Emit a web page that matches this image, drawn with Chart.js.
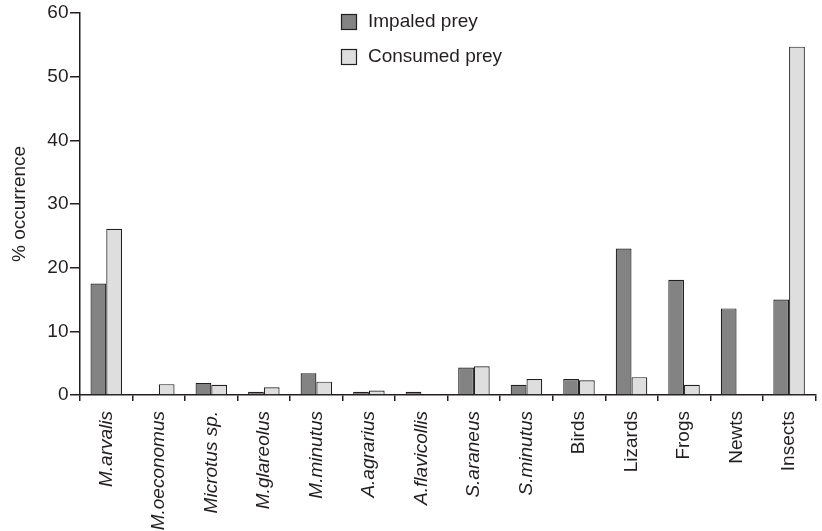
<!DOCTYPE html>
<html>
<head>
<meta charset="utf-8">
<script src="https://cdn.jsdelivr.net/npm/chart.js@4/dist/chart.umd.min.js"></script>
<style>
  html, body { margin: 0; padding: 0; background: #fff; }
  canvas { display: block; }
</style>
</head>
<body>
<canvas id="prey-chart" width="822" height="531"></canvas>
<script>
const categories = [
  'M.arvalis', 'M.oeconomus', 'Microtus sp.', 'M.glareolus', 'M.minutus',
  'A.agrarius', 'A.flavicollis', 'S.araneus', 'S.minutus', 'Birds',
  'Lizards', 'Frogs', 'Newts', 'Insects'
];
// species names are set in italics, group names upright
const italicLabels = [true, true, true, true, true, true, true, true, true, false, false, false, false, false];

const impaledPrey = [17.5, 0, 1.9, 0.5, 3.4, 0.5, 0.5, 4.3, 1.6, 2.5, 23.0, 18.1, 13.6, 15.0];
const consumedPrey = [26.1, 1.7, 1.6, 1.2, 2.1, 0.7, 0, 4.5, 2.5, 2.3, 2.8, 1.6, 0, 54.7];

const yTicks = [0, 10, 20, 30, 40, 50, 60];

const FONT = "'Liberation Sans', Arial, sans-serif";
const INK = '#231f20';

// simple stacked legend drawn in the top middle of the plot
const boxLegend = {
  id: 'boxLegend',
  afterDraw(chart) {
    const ctx = chart.ctx;
    ctx.save();
    ctx.font = '19px ' + FONT;
    ctx.textBaseline = 'middle';
    ctx.textAlign = 'left';
    chart.data.datasets.forEach((ds, i) => {
      const x = 341;
      const y = 14 + i * 35;
      ctx.fillStyle = ds.backgroundColor;
      ctx.fillRect(x, y, 16, 16);
      ctx.strokeStyle = ds.borderColor;
      ctx.lineWidth = 1.2;
      ctx.strokeRect(x + 0.5, y + 0.5, 15, 15);
      ctx.fillStyle = INK;
      ctx.fillText(ds.label, 368, y + 8);
    });
    ctx.restore();
  }
};

new Chart(document.getElementById('prey-chart').getContext('2d'), {
  type: 'bar',
  data: {
    labels: categories,
    datasets: [{
      label: 'Impaled prey',
      data: impaledPrey,
      backgroundColor: '#838383',
      borderColor: INK,
      borderWidth: 1.2,
      borderSkipped: 'bottom',
    }, {
      label: 'Consumed prey',
      data: consumedPrey,
      backgroundColor: '#dedede',
      borderColor: INK,
      borderWidth: 1.2,
      borderSkipped: 'bottom',
    }],
  },
  options: {
    responsive: false,
    animation: false,
    layout: { padding: { top: 11, right: 3, left: 0, bottom: 0 } },
    datasets: {
      bar: { categoryPercentage: 0.6, barPercentage: 1.0 },
    },
    plugins: {
      legend: { display: false },
      tooltip: { enabled: false },
    },
    scales: {
      x: {
        grid: {
          offset: true,
          drawOnChartArea: false,
          drawTicks: true,
          tickLength: 6,
          color: INK,
          lineWidth: 1.5,
        },
        border: { display: true, color: INK, width: 1.5 },
        ticks: {
          color: INK,
          minRotation: 90,
          maxRotation: 90,
          padding: 10,
          font: (c) => ({
            family: FONT,
            size: 19,
            style: italicLabels[c.index] ? 'italic' : 'normal',
          }),
        },
        afterFit(scale) { scale.height = 136; },
      },
      y: {
        min: 0,
        max: 60,
        afterBuildTicks(scale) { scale.ticks = yTicks.map((v) => ({ value: v })); },
        grid: {
          drawOnChartArea: false,
          drawTicks: true,
          tickLength: 10,
          color: INK,
          lineWidth: 1.5,
        },
        border: { display: true, color: INK, width: 1.5 },
        ticks: {
          color: INK,
          padding: 1.5,
          font: { family: FONT, size: 19 },
        },
        title: {
          display: true,
          text: '% occurrence',
          color: INK,
          font: { family: FONT, size: 19 },
          padding: { top: 8, bottom: 0 },
        },
        afterFit(scale) { scale.width = 80; },
      },
    },
  },
  plugins: [boxLegend],
});
</script>
</body>
</html>
